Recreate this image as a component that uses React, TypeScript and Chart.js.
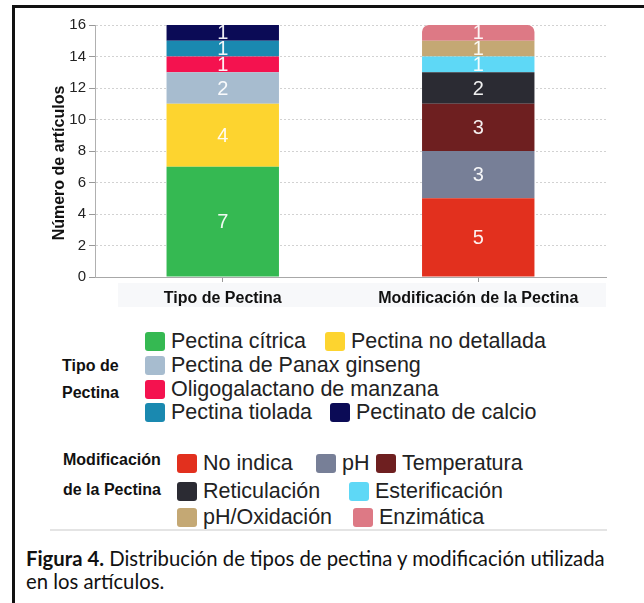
import React, { useEffect, useRef } from "react";
import { Chart, registerables } from "chart.js";

Chart.register(...registerables);

// ---------- data ----------
const categories = ["Tipo de Pectina", "Modificación de la Pectina"];

const tipoLabels = [
  "Pectina cítrica",
  "Pectina no detallada",
  "Pectina de Panax ginseng",
  "Oligogalactano de manzana",
  "Pectina tiolada",
  "Pectinato de calcio",
];
const tipoValues = [7, 4, 2, 1, 1, 1];
const tipoColors = ["#35b952", "#fdd42f", "#a7bccf", "#f4124f", "#1a89b0", "#0b0b56"];

const modLabels = [
  "No indica",
  "pH",
  "Temperatura",
  "Reticulación",
  "Esterificación",
  "pH/Oxidación",
  "Enzimática",
];
const modValues = [5, 3, 3, 2, 1, 1, 1];
const modColors = ["#e2301e", "#777f97", "#6e1f20", "#2b2b33", "#5ed8f6", "#c4a874", "#dd7985"];

const yMin = 0;
const yMax = 16;
const yStep = 2;
const yTitle = "Número de artículos";

const tipoGroupTitle = ["Tipo de", "Pectina"];
const modGroupTitle = ["Modificación", "de la Pectina"];
const captionBold = "Figura 4.";
const captionLine1 = " Distribución de tipos de pectina y modificación utilizada";
const captionLine2 = "en los artículos.";

// ---------- layout (positions only) ----------
const FONT = "'Liberation Sans', Arial, Helvetica, sans-serif";
const tipoRows: number[][] = [[0, 1], [2], [3], [4, 5]];
const tipoRowTops = [332, 356, 380, 403];
const tipoItemX: number[] = [145, 325, 145, 145, 145, 330];
const modRows: number[][] = [[0, 1, 2], [3, 4], [5, 6]];
const modRowTops = [454, 482, 508];
const modItemX: number[] = [177, 316, 376, 177, 349, 177, 353];

const valueLabelPlugin = {
  id: "valueLabels",
  afterDatasetsDraw(chart: any) {
    const ctx = chart.ctx;
    ctx.save();
    ctx.font = `20px ${FONT}`;
    ctx.fillStyle = "rgba(255,255,255,0.93)";
    ctx.textAlign = "center";
    ctx.textBaseline = "middle";
    chart.data.datasets.forEach((ds: any, i: number) => {
      const meta = chart.getDatasetMeta(i);
      meta.data.forEach((bar: any, j: number) => {
        const v = ds.data[j];
        if (v === null || v === undefined) return;
        const p = bar.getProps(["x", "y", "base"], true);
        ctx.fillText(String(v), p.x, (p.y + p.base) / 2 + 1);
      });
    });
    ctx.restore();
  },
};

const yTitlePlugin = {
  id: "yTitleCustom",
  afterDraw(chart: any) {
    const { ctx, chartArea } = chart;
    ctx.save();
    ctx.translate(chartArea.left - 35, (chartArea.top + chartArea.bottom) / 2 + 12);
    ctx.rotate(-Math.PI / 2);
    ctx.font = `bold 16px ${FONT}`;
    ctx.fillStyle = "#111";
    ctx.textAlign = "center";
    ctx.textBaseline = "middle";
    ctx.fillText(yTitle, 0, 0);
    ctx.restore();
  },
};

const bandPlugin = {
  id: "labelBand",
  beforeDraw(chart: any) {
    const { ctx, chartArea } = chart;
    ctx.save();
    ctx.fillStyle = "#f7f8fa";
    ctx.fillRect(118, chartArea.bottom + 6, chartArea.right - 118, 24);
    ctx.restore();
  },
};

function ChartCanvas() {
  const ref = useRef<HTMLCanvasElement | null>(null);
  useEffect(() => {
    if (!ref.current) return;
    const datasets: any[] = [];
    tipoLabels.forEach((l, i) => {
      datasets.push({
        label: l,
        data: [tipoValues[i], null],
        backgroundColor: tipoColors[i],
        borderWidth: 0,
        categoryPercentage: 1,
        barPercentage: 0.44,
      });
    });
    modLabels.forEach((l, i) => {
      const isTop = i === modLabels.length - 1;
      datasets.push({
        label: l,
        data: [null, modValues[i]],
        backgroundColor: modColors[i],
        borderWidth: 0,
        borderSkipped: false,
        borderRadius: isTop
          ? { topLeft: 7, topRight: 7, bottomLeft: 0, bottomRight: 0 }
          : 0,
        categoryPercentage: 1,
        barPercentage: 0.44,
      });
    });
    const chart = new Chart(ref.current, {
      type: "bar",
      data: { labels: categories, datasets },
      options: {
        responsive: false,
        animation: false,
        layout: { padding: { left: 0, right: 38, top: 25, bottom: 8 } },
        plugins: { legend: { display: false }, tooltip: { enabled: false } },
        scales: {
          x: {
            stacked: true,
            grid: {
              display: true,
              drawOnChartArea: false,
              drawTicks: true,
              tickLength: 5,
              color: "#999",
              offset: false,
            },
            border: { display: true, color: "#a8a8a8", width: 1 },
            ticks: {
              color: "#111",
              font: { family: FONT, size: 16, weight: "bold" },
              padding: 7,
              maxRotation: 0,
            },
            afterFit: (s: any) => {
              s.height = 35;
            },
          },
          y: {
            stacked: true,
            min: yMin,
            max: yMax,
            ticks: {
              stepSize: yStep,
              color: "#222",
              font: { family: FONT, size: 15 },
              padding: 3,
            },
            grid: {
              color: "#d2d2d2",
              tickColor: "#999",
              tickLength: 6,
              tickBorderDash: [],
              lineWidth: 1,
            },
            border: { display: true, color: "#b0b0b0", dash: [2, 2] },
            afterFit: (s: any) => {
              s.width = 95;
            },
          },
        },
      } as any,
      plugins: [bandPlugin, valueLabelPlugin, yTitlePlugin],
    });
    return () => chart.destroy();
  }, []);
  return (
    <canvas
      ref={ref}
      width={644}
      height={320}
      style={{ position: "absolute", left: 0, top: 0, width: 644, height: 320 }}
    />
  );
}

function LegendItem(props: { x: number; top: number; color: string; label: string }) {
  return (
    <div
      style={{
        position: "absolute",
        left: props.x,
        top: props.top,
        height: 19,
        display: "flex",
        alignItems: "center",
        whiteSpace: "nowrap",
      }}
    >
      <div
        style={{
          width: 20,
          height: 19,
          borderRadius: 3,
          background: props.color,
          marginRight: 6,
          flex: "none",
        }}
      />
      <span style={{ fontFamily: FONT, fontSize: 21.5, color: "#222", lineHeight: "19px" }}>
        {props.label}
      </span>
    </div>
  );
}

export default function App() {
  return (
    <div
      style={{
        position: "absolute",
        left: 0,
        top: 0,
        width: 644,
        height: 603,
        overflow: "hidden",
        background: "#fff",
      }}
    >
      <div
        style={{
          position: "absolute",
          left: 12,
          top: 5,
          width: 700,
          height: 700,
          border: "3px solid #111",
          boxSizing: "border-box",
        }}
      />
      <ChartCanvas />

      {/* group 1 legend */}
      {tipoGroupTitle.map((t, i) => (
        <div
          key={"tg" + i}
          style={{
            position: "absolute",
            left: 62,
            top: 357 + i * 27,
            fontFamily: FONT,
            fontWeight: "bold",
            fontSize: 16,
            lineHeight: "18px",
            color: "#111",
            whiteSpace: "nowrap",
          }}
        >
          {t}
        </div>
      ))}
      {tipoRows.map((row, r) =>
        row.map((idx) => (
          <LegendItem
            key={"t" + idx}
            x={tipoItemX[idx]}
            top={tipoRowTops[r]}
            color={tipoColors[idx]}
            label={tipoLabels[idx]}
          />
        ))
      )}

      {/* group 2 legend */}
      {modGroupTitle.map((t, i) => (
        <div
          key={"mg" + i}
          style={{
            position: "absolute",
            left: 63,
            top: 451 + i * 30,
            fontFamily: FONT,
            fontWeight: "bold",
            fontSize: 16,
            lineHeight: "18px",
            color: "#111",
            whiteSpace: "nowrap",
          }}
        >
          {t}
        </div>
      ))}
      {modRows.map((row, r) =>
        row.map((idx) => (
          <LegendItem
            key={"m" + idx}
            x={modItemX[idx]}
            top={modRowTops[r]}
            color={modColors[idx]}
            label={modLabels[idx]}
          />
        ))
      )}

      <div
        style={{
          position: "absolute",
          left: 50,
          top: 529,
          width: 557,
          height: 2,
          background: "#e4e4e4",
        }}
      />

      <div
        style={{
          position: "absolute",
          left: 26,
          top: 547,
          fontFamily: "Lato, 'Noto Sans', sans-serif",
          fontSize: 20.3,
          lineHeight: "23px",
          color: "#111",
          whiteSpace: "nowrap",
        }}
      >
        <b>{captionBold}</b>
        {captionLine1}
        <br />
        {captionLine2}
      </div>
    </div>
  );
}
